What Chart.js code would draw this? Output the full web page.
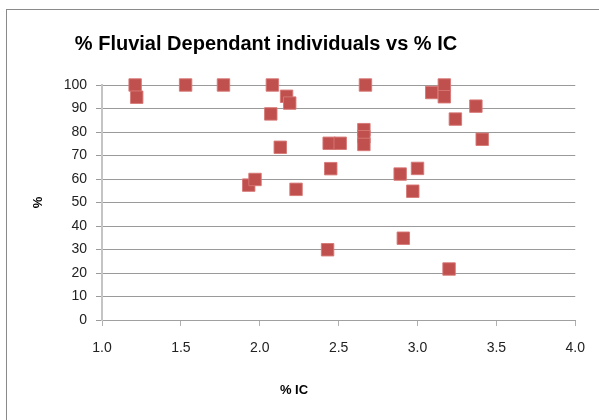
<!DOCTYPE html>
<html>
<head>
<meta charset="utf-8">
<script src="https://cdn.jsdelivr.net/npm/chart.js@4/dist/chart.umd.min.js"></script>
<style>
  html, body { margin: 0; padding: 0; background: #fff; overflow: hidden; }
  #wrap { position: relative; width: 599px; height: 420px; }
  #frame {
    position: absolute; left: 6px; top: 9px; width: 700px; height: 500px;
    border-left: 1px solid #8a8a8a; border-top: 1px solid #8a8a8a;
    pointer-events: none;
  }
  canvas { position: absolute; left: 0; top: 0; }
</style>
</head>
<body>
<div id="wrap">
  <canvas id="scatterChart" width="599" height="420"></canvas>
  <div id="frame"></div>
</div>
<script>
// % IC (x) and % fluvial dependant individuals (y)
const icValues = [
  1.21, 1.22, 1.53, 1.77, 1.93, 1.97, 2.07, 2.08, 2.13, 2.17, 2.19,
  2.23, 2.44, 2.51, 2.45, 2.43, 2.66, 2.66, 2.66, 2.67, 2.89, 2.91,
  2.97, 3.00, 3.09, 3.17, 3.17, 3.20, 3.24, 3.37, 3.41
];
const fluvialPct = [
  100, 94.8, 100, 100, 57.4, 59.8, 87.7, 100, 73.5, 95.2, 92.3,
  55.6, 75.2, 75.2, 64.4, 29.9, 81, 78, 74.7, 100, 62.1, 34.8,
  54.8, 64.5, 96.8, 100, 95, 21.7, 85.5, 91, 76.9
];
const chartTitle = "% Fluvial Dependant individuals vs % IC";
const xTitle = "% IC";
const yTitle = "%";

const tickFont = { family: "Liberation Sans, Arial, sans-serif", size: 14 };
const axisTitleFont = { family: "Liberation Sans, Arial, sans-serif", size: 13, weight: "bold" };

const points = icValues.map((x, i) => ({ x: x, y: fluvialPct[i] }));

// Excel places the chart title and x-axis title a little left of the plot centre,
// so draw those two texts here instead of through the built-in title options
const titlesPlugin = {
  id: "excelTitles",
  afterDraw(chart) {
    const ctx = chart.ctx;
    ctx.save();
    ctx.fillStyle = "#000";
    ctx.textAlign = "center";
    ctx.textBaseline = "middle";
    ctx.font = "bold 20px 'Liberation Sans', Arial, sans-serif";
    ctx.fillText(chartTitle, 266, 44);
    ctx.font = "bold 13px 'Liberation Sans', Arial, sans-serif";
    ctx.fillText(xTitle, 294, 390);
    ctx.restore();
  },
};

new Chart(document.getElementById("scatterChart").getContext("2d"), {
  type: "scatter",
  data: {
    datasets: [{
      label: "Fluvial dependant",
      data: points,
      pointStyle: "rect",
      pointRadius: 8.8,
      pointHoverRadius: 8.8,
      backgroundColor: "#C0504D",
      borderColor: "rgba(215,120,118,0.9)",
      borderWidth: 1,
      clip: false,
    }],
  },
  plugins: [titlesPlugin],
  options: {
    responsive: false,
    animation: false,
    layout: { padding: { left: 0, right: 23, top: 85, bottom: 0 } },
    plugins: {
      legend: { display: false },
      tooltip: { enabled: false },
      title: { display: false },
    },
    scales: {
      x: {
        type: "linear",
        min: 1,
        max: 4,
        ticks: {
          stepSize: 0.5,
          color: "#222",
          font: tickFont,
          padding: 14,
          maxRotation: 0,
          callback: (v) => v.toFixed(1),
        },
        grid: { drawOnChartArea: false, color: "#b0b0b0", tickLength: 6 },
        border: { color: "#a0a0a0", width: 1 },
        afterFit: (scale) => { scale.height = 100; },
      },
      y: {
        min: 0,
        max: 100,
        ticks: { stepSize: 10, color: "#222", font: tickFont, padding: 9 },
        grid: { color: "#9a9a9a", tickLength: 6 },
        border: { color: "#c4c4c4", width: 2 },
        title: { display: true, text: yTitle, color: "#000", font: axisTitleFont, padding: { top: 31, bottom: 31 } },
        afterFit: (scale) => { scale.width = 102; },
      },
    },
  },
});
</script>
</body>
</html>
